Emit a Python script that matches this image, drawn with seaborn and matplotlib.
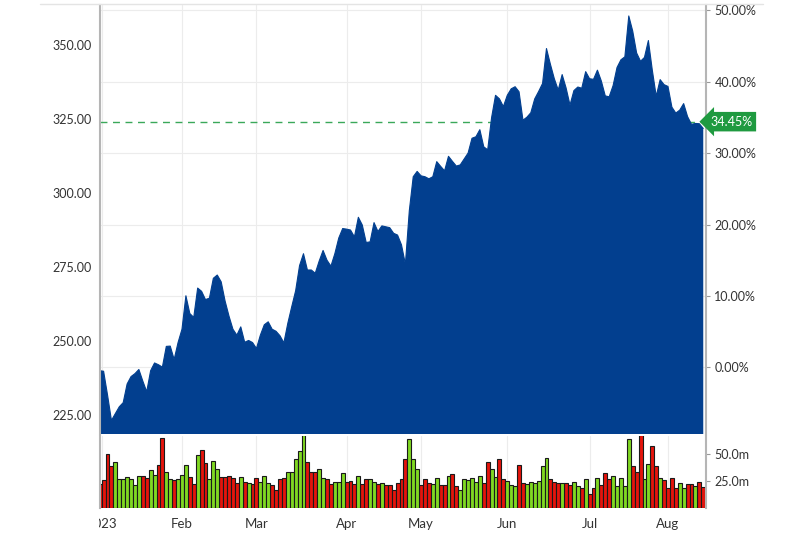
import numpy as np
import pandas as pd
import matplotlib
matplotlib.use("Agg")
import matplotlib.pyplot as plt
import seaborn as sns
from matplotlib.ticker import FuncFormatter
from matplotlib.transforms import Bbox, TransformedBbox, blended_transform_factory
from matplotlib.lines import Line2D

sns.set_style("white")
plt.rcParams['font.family'] = ['Lato', 'DejaVu Sans']

# -----------------------------
# Data (daily closes and volume, Dec 30 2022 -> Aug 11 2023)
# -----------------------------
prices = [
    240.0, 239.8, 231.8, 223.2, 225.5, 227.8, 229.2, 235.5, 238.0, 239.0,
    240.4, 236.5, 232.9, 240.0, 242.6, 242.0, 241.2, 248.2, 248.3, 243.8,
    249.5, 254.0, 265.3, 259.3, 258.0, 267.9, 266.8, 264.0, 264.5, 271.2,
    272.3, 270.0, 263.5, 258.4, 254.0, 252.0, 254.8, 249.6, 250.2, 249.5,
    247.5, 252.0, 255.5, 256.5, 254.0, 253.3, 251.8, 249.4, 256.0, 261.6,
    267.0, 275.5, 279.5, 274.0, 274.0, 272.9, 277.0, 280.6, 277.3, 275.3,
    279.5, 284.8, 288.0, 287.8, 287.5, 285.2, 291.8, 289.2, 283.3, 283.5,
    290.0, 287.0, 288.9, 288.6, 288.3, 286.4, 285.8, 282.5, 276.0, 294.0,
    305.5, 307.3, 305.8, 305.5, 304.8, 305.5, 310.6, 309.0, 307.5, 312.4,
    310.7, 309.1, 309.5, 311.5, 313.5, 318.5, 319.0, 321.4, 315.6, 314.6,
    325.5, 333.0, 331.8, 329.2, 333.0, 335.2, 335.9, 334.2, 324.6, 325.6,
    327.1, 331.8, 334.3, 337.0, 348.8, 343.5, 338.6, 334.8, 340.0, 335.5,
    329.7, 334.6, 335.8, 335.4, 341.0, 338.6, 338.4, 341.5, 337.8, 332.8,
    332.5, 336.3, 342.4, 345.0, 346.0, 359.8, 354.7, 347.3, 344.5, 345.8,
    351.5, 341.5, 332.7, 338.3, 336.6, 336.0, 329.0, 327.0, 328.0, 330.2,
    325.8, 323.2, 323.5, 323.4, 321.8,
]

volumes = [
    22.0, 26.0, 50.0, 39.0, 43.0, 26.5, 26.5, 29.0, 27.0, 21.0,
    30.0, 30.0, 28.0, 35.0, 30.5, 40.0, 64.5, 33.0, 26.5, 26.0,
    26.5, 30.5, 40.0, 29.0, 22.0, 49.0, 53.7, 42.0, 26.5, 44.0,
    36.0, 29.0, 29.0, 30.0, 27.5, 23.0, 29.0, 24.4, 23.0, 21.9,
    27.5, 24.4, 29.6, 23.5, 21.3, 16.7, 26.5, 27.5, 33.0, 33.0,
    45.0, 53.0, 68.5, 42.9, 33.6, 33.6, 36.0, 27.5, 26.5, 21.9,
    24.4, 24.4, 32.0, 24.4, 25.3, 22.2, 29.6, 22.2, 26.5, 26.5,
    24.4, 21.9, 23.5, 21.3, 21.3, 16.7, 23.5, 26.5, 45.0, 63.6,
    45.0, 36.1, 21.3, 26.5, 22.8, 22.2, 27.5, 21.3, 21.3, 29.9,
    31.2, 20.4, 16.7, 26.5, 25.9, 27.5, 24.4, 29.9, 22.8, 42.9,
    36.1, 28.4, 45.0, 26.5, 25.3, 21.3, 20.4, 39.8, 23.5, 22.2,
    24.4, 23.5, 25.3, 38.9, 46.0, 26.5, 24.4, 23.5, 22.8, 22.8,
    21.3, 24.4, 20.4, 18.2, 26.5, 12.7, 18.2, 27.5, 21.3, 32.1,
    26.5, 29.9, 20.4, 27.5, 20.4, 63.6, 38.9, 33.6, 68.5, 26.5,
    40.7, 57.4, 38.9, 27.5, 25.9, 18.2, 27.5, 18.2, 23.5, 18.2,
    22.2, 22.2, 20.4, 24.4, 19.1,
]

month_ticks = [0.5, 21, 40, 63, 82, 104, 125, 145]
month_labels = ["2023", "Feb", "Mar", "Apr", "May", "Jun", "Jul", "Aug"]
price_ticks = [225, 250, 275, 300, 325, 350]
pct_ticks = [0, 10, 20, 30, 40, 50]
vol_ticks = [25, 50]

base_price = 241.1
last_price = 324.1
last_change = "34.45%"

df = pd.DataFrame({"day": np.arange(len(prices)), "price": prices, "volume": volumes})
df["dir"] = np.where(df["price"].diff() > 0, "up", "down")

BLUE = "#023f8f"
GRID = "#ececec"
SPINE = "#b5b5b5"
TXT = "#333333"

# -----------------------------
# Figure layout
# -----------------------------
fig = plt.figure(figsize=(8, 5.33), dpi=100)
ax = fig.add_axes([0.125, 0.1857, 0.7575, 0.8049])
axv = fig.add_axes([0.125, 0.0469, 0.7575, 0.1351])

# -----------------------------
# Price area
# -----------------------------
ax.fill_between(df["day"], df["price"], 150, color=BLUE, lw=0, zorder=2)
sns.lineplot(data=df, x="day", y="price", color=BLUE, lw=0.8, ax=ax, zorder=2)

ax.axhline(last_price, color="#3aa85a", lw=1, ls=(0, (5, 4)), zorder=1)
for p in pct_ticks:
    ax.axhline(base_price * (1 + p / 100), color=GRID, lw=0.8, zorder=0)

ax.set_xlim(0.08, 154.7)
ax.set_ylim(218.6, 363.5)
ax.set_xticks(month_ticks)
ax.grid(axis="x", color=GRID, lw=0.8)
ax.set_axisbelow(True)
ax.tick_params(axis="x", length=0, labelbottom=False)
ax.set_yticks(price_ticks)
ax.yaxis.set_major_formatter(FuncFormatter(lambda v, _: f"{v:.2f}"))
ax.tick_params(axis="y", length=3, width=0.8, color="#999999", labelsize=9,
               labelcolor=TXT, pad=3)
ax.set_xlabel("")
ax.set_ylabel("")

sec = ax.secondary_yaxis("right", functions=(lambda p: (p / base_price - 1) * 100,
                                             lambda q: base_price * (1 + q / 100)))
sec.set_yticks(pct_ticks)
sec.yaxis.set_major_formatter(FuncFormatter(lambda v, _: f"{v:.2f}%"))
sec.tick_params(axis="y", length=3, width=0.8, color="#999999", labelsize=9,
                labelcolor=TXT, pad=3)
sec.spines["right"].set_color(SPINE)
sec.spines["right"].set_linewidth(1.5)

for side in ["top", "bottom", "right"]:
    ax.spines[side].set_visible(False)
ax.spines["left"].set_color(SPINE)
ax.spines["left"].set_linewidth(1.5)

# last change tag
tr = blended_transform_factory(ax.transAxes, ax.transData)
ax.text(1.007, last_price, last_change, transform=tr, ha="left", va="center",
        color="white", fontsize=9, zorder=5, clip_on=False,
        bbox=dict(boxstyle="larrow,pad=0.3", fc="#1f9a40", ec="none"))

# -----------------------------
# Volume bars
# -----------------------------
sns.barplot(data=df, x="day", y="volume", hue="dir",
            palette={"up": "#80d822", "down": "#e5140c"}, saturation=1,
            native_scale=True, width=1, dodge=False, errorbar=None,
            edgecolor="#1a1a1a", linewidth=0.8, legend=False, ax=axv, zorder=2)

axv.set_xlim(0.08, 154.7)
axv.set_ylim(0, 66.7)
axv.set_xticks(month_ticks, month_labels)
axv.grid(axis="x", color=GRID, lw=0.8)
axv.set_axisbelow(True)
axv.tick_params(axis="x", length=4, width=0.8, color="#999999", labelsize=9.5,
                labelcolor=TXT, pad=3)
axv.yaxis.tick_right()
axv.set_yticks(vol_ticks)
axv.yaxis.set_major_formatter(FuncFormatter(lambda v, _: f"{v:.1f}m"))
axv.tick_params(axis="y", length=3, width=0.8, color="#999999", labelsize=9,
                labelcolor=TXT, pad=3)
axv.set_xlabel("")
axv.set_ylabel("")
for side in ["top", "bottom"]:
    axv.spines[side].set_visible(False)
for side in ["left", "right"]:
    axv.spines[side].set_color(SPINE)
    axv.spines[side].set_linewidth(1.5)

# clip the first tick label at the plot's left edge
clip = TransformedBbox(Bbox([[0.1235, 0], [1, 1]]), fig.transFigure)
for lbl in axv.get_xticklabels():
    lbl.set_clip_box(clip)
    lbl.set_clip_on(True)

fig.add_artist(Line2D([0.05, 0.954], [0.9925, 0.9925], color="#e4e4e4", lw=1))

plt.savefig("out.png", dpi=100)
plt.close()
